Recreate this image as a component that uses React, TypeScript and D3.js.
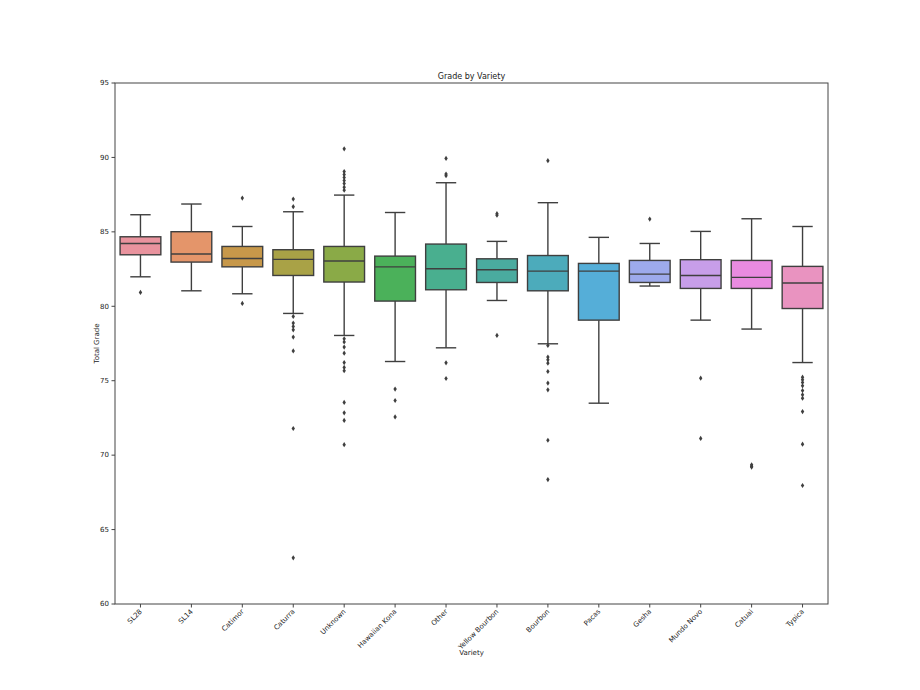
import React from 'react';
import * as d3 from 'd3';

// Variety order as shown on the x axis
const varieties = [
  'SL28', 'SL14', 'Catimor', 'Caturra', 'Unknown', 'Hawaiian Kona', 'Other',
  'Yellow Bourbon', 'Bourbon', 'Pacas', 'Gesha', 'Mundo Novo', 'Catuai', 'Typica',
];

const lowWhiskers = [81.98, 81.04, 80.84, 79.52, 78.04, 76.29, 77.21, 80.39, 77.48, 73.49, 81.36, 79.07, 78.47, 76.22];
const q1s = [83.46, 82.97, 82.65, 82.07, 81.63, 80.35, 81.11, 81.6, 81.04, 79.07, 81.6, 81.2, 81.2, 79.85];
const medians = [84.22, 83.51, 83.21, 83.15, 83.04, 82.65, 82.52, 82.45, 82.36, 82.36, 82.16, 82.07, 81.94, 81.56];
const q3s = [84.67, 85.01, 84.02, 83.8, 84.02, 83.37, 84.18, 83.19, 83.41, 82.88, 83.08, 83.13, 83.08, 82.68];
const highWhiskers = [86.15, 86.87, 85.36, 86.35, 87.47, 86.3, 88.3, 84.36, 86.96, 84.63, 84.22, 85.03, 85.88, 85.36];

const outliers: number[][] = [
  [80.93],
  [],
  [87.27, 80.19],
  [87.2, 86.69, 79.32, 78.87, 78.65, 78.42, 77.93, 77.0, 71.79, 63.1],
  [90.58, 89.05, 88.85, 88.65, 88.45, 88.25, 88.0, 87.8, 77.82, 77.6, 77.26, 76.85, 76.22, 75.89, 75.67, 73.54, 72.84, 72.33, 70.7],
  [74.44, 73.67, 72.57],
  [89.93, 88.88, 88.77, 76.2, 75.15],
  [86.22, 86.12, 78.04],
  [89.78, 77.37, 76.59, 76.4, 76.18, 75.62, 74.84, 74.39, 71.0, 68.36],
  [],
  [85.86],
  [75.17, 71.12],
  [69.35, 69.25, 69.2],
  [75.24, 75.06, 74.88, 74.66, 74.34, 74.05, 73.83, 72.93, 70.74, 67.96],
];

const palette = [
  '#e9939e', '#e4956a', '#c7984a', '#a9a246', '#8aaa47', '#4bb15a', '#49af8f',
  '#4aab9f', '#4cabbb', '#55aed8', '#9daaec', '#c79ee9', '#e98be0', '#e993c0',
];

const yTicks = [60, 65, 70, 75, 80, 85, 90, 95];

const W = 920;
const H = 690;
const margin = { top: 83, right: 92, bottom: 86, left: 115 };
const font = 'DejaVu Sans, sans-serif';
const edge = '#3f3f3f';

export default function App() {
  const x = d3
    .scaleBand<string>()
    .domain(varieties)
    .range([margin.left, W - margin.right])
    .paddingInner(0)
    .paddingOuter(0);
  const y = d3.scaleLinear().domain([60, 95]).range([H - margin.bottom, margin.top]);

  const bw = x.bandwidth() * 0.8;
  const capW = bw * 0.5;
  const diamond = 'M0,-2.6L1.7,0L0,2.6L-1.7,0Z';

  const plotLeft = margin.left;
  const plotRight = W - margin.right;
  const plotTop = margin.top;
  const plotBottom = H - margin.bottom;

  return (
    <svg
      width={W}
      height={H}
      style={{ position: 'absolute', left: 0, top: 0, background: '#fff' }}
      fontFamily={font}
    >
      {/* boxes */}
      {varieties.map((v, i) => {
        const cx = (x(v) as number) + x.bandwidth() / 2;
        return (
          <g key={v}>
            <line x1={cx} x2={cx} y1={y(q3s[i])} y2={y(highWhiskers[i])} stroke={edge} strokeWidth={1.4} />
            <line x1={cx} x2={cx} y1={y(q1s[i])} y2={y(lowWhiskers[i])} stroke={edge} strokeWidth={1.4} />
            <line x1={cx - capW / 2} x2={cx + capW / 2} y1={y(highWhiskers[i])} y2={y(highWhiskers[i])} stroke={edge} strokeWidth={1.4} />
            <line x1={cx - capW / 2} x2={cx + capW / 2} y1={y(lowWhiskers[i])} y2={y(lowWhiskers[i])} stroke={edge} strokeWidth={1.4} />
            <rect
              x={cx - bw / 2}
              y={y(q3s[i])}
              width={bw}
              height={y(q1s[i]) - y(q3s[i])}
              fill={palette[i]}
              stroke={edge}
              strokeWidth={1.4}
            />
            <line x1={cx - bw / 2} x2={cx + bw / 2} y1={y(medians[i])} y2={y(medians[i])} stroke={edge} strokeWidth={1.4} />
            {outliers[i].map((o, j) => (
              <path key={j} d={diamond} transform={`translate(${cx},${y(o)})`} fill={edge} />
            ))}
          </g>
        );
      })}

      {/* frame */}
      <rect
        x={plotLeft}
        y={plotTop}
        width={plotRight - plotLeft}
        height={plotBottom - plotTop}
        fill="none"
        stroke="#444"
        strokeWidth={1}
      />

      {/* y axis */}
      {yTicks.map((t) => (
        <g key={t} transform={`translate(${plotLeft},${y(t)})`}>
          <line x1={-3.5} x2={0} stroke="#444" />
          <text x={-6} dy="0.32em" textAnchor="end" fontSize={7} fill="#222">
            {t}
          </text>
        </g>
      ))}

      {/* x axis */}
      {varieties.map((v) => {
        const cx = (x(v) as number) + x.bandwidth() / 2;
        return (
          <g key={v}>
            <line x1={cx} x2={cx} y1={plotBottom} y2={plotBottom + 3.5} stroke="#444" />
            <text
              transform={`translate(${cx + 2},${plotBottom + 8}) rotate(-45)`}
              textAnchor="end"
              fontSize={7}
              fill="#222"
            >
              {v}
            </text>
          </g>
        );
      })}

      <text x={(plotLeft + plotRight) / 2} y={79} textAnchor="middle" fontSize={8} fill="#222">
        Grade by Variety
      </text>
      <text x={(plotLeft + plotRight) / 2} y={655} textAnchor="middle" fontSize={7} fill="#222">
        Variety
      </text>
      <text
        transform={`translate(99,${(plotTop + plotBottom) / 2}) rotate(-90)`}
        textAnchor="middle"
        fontSize={7}
        fill="#222"
      >
        Total Grade
      </text>
    </svg>
  );
}
